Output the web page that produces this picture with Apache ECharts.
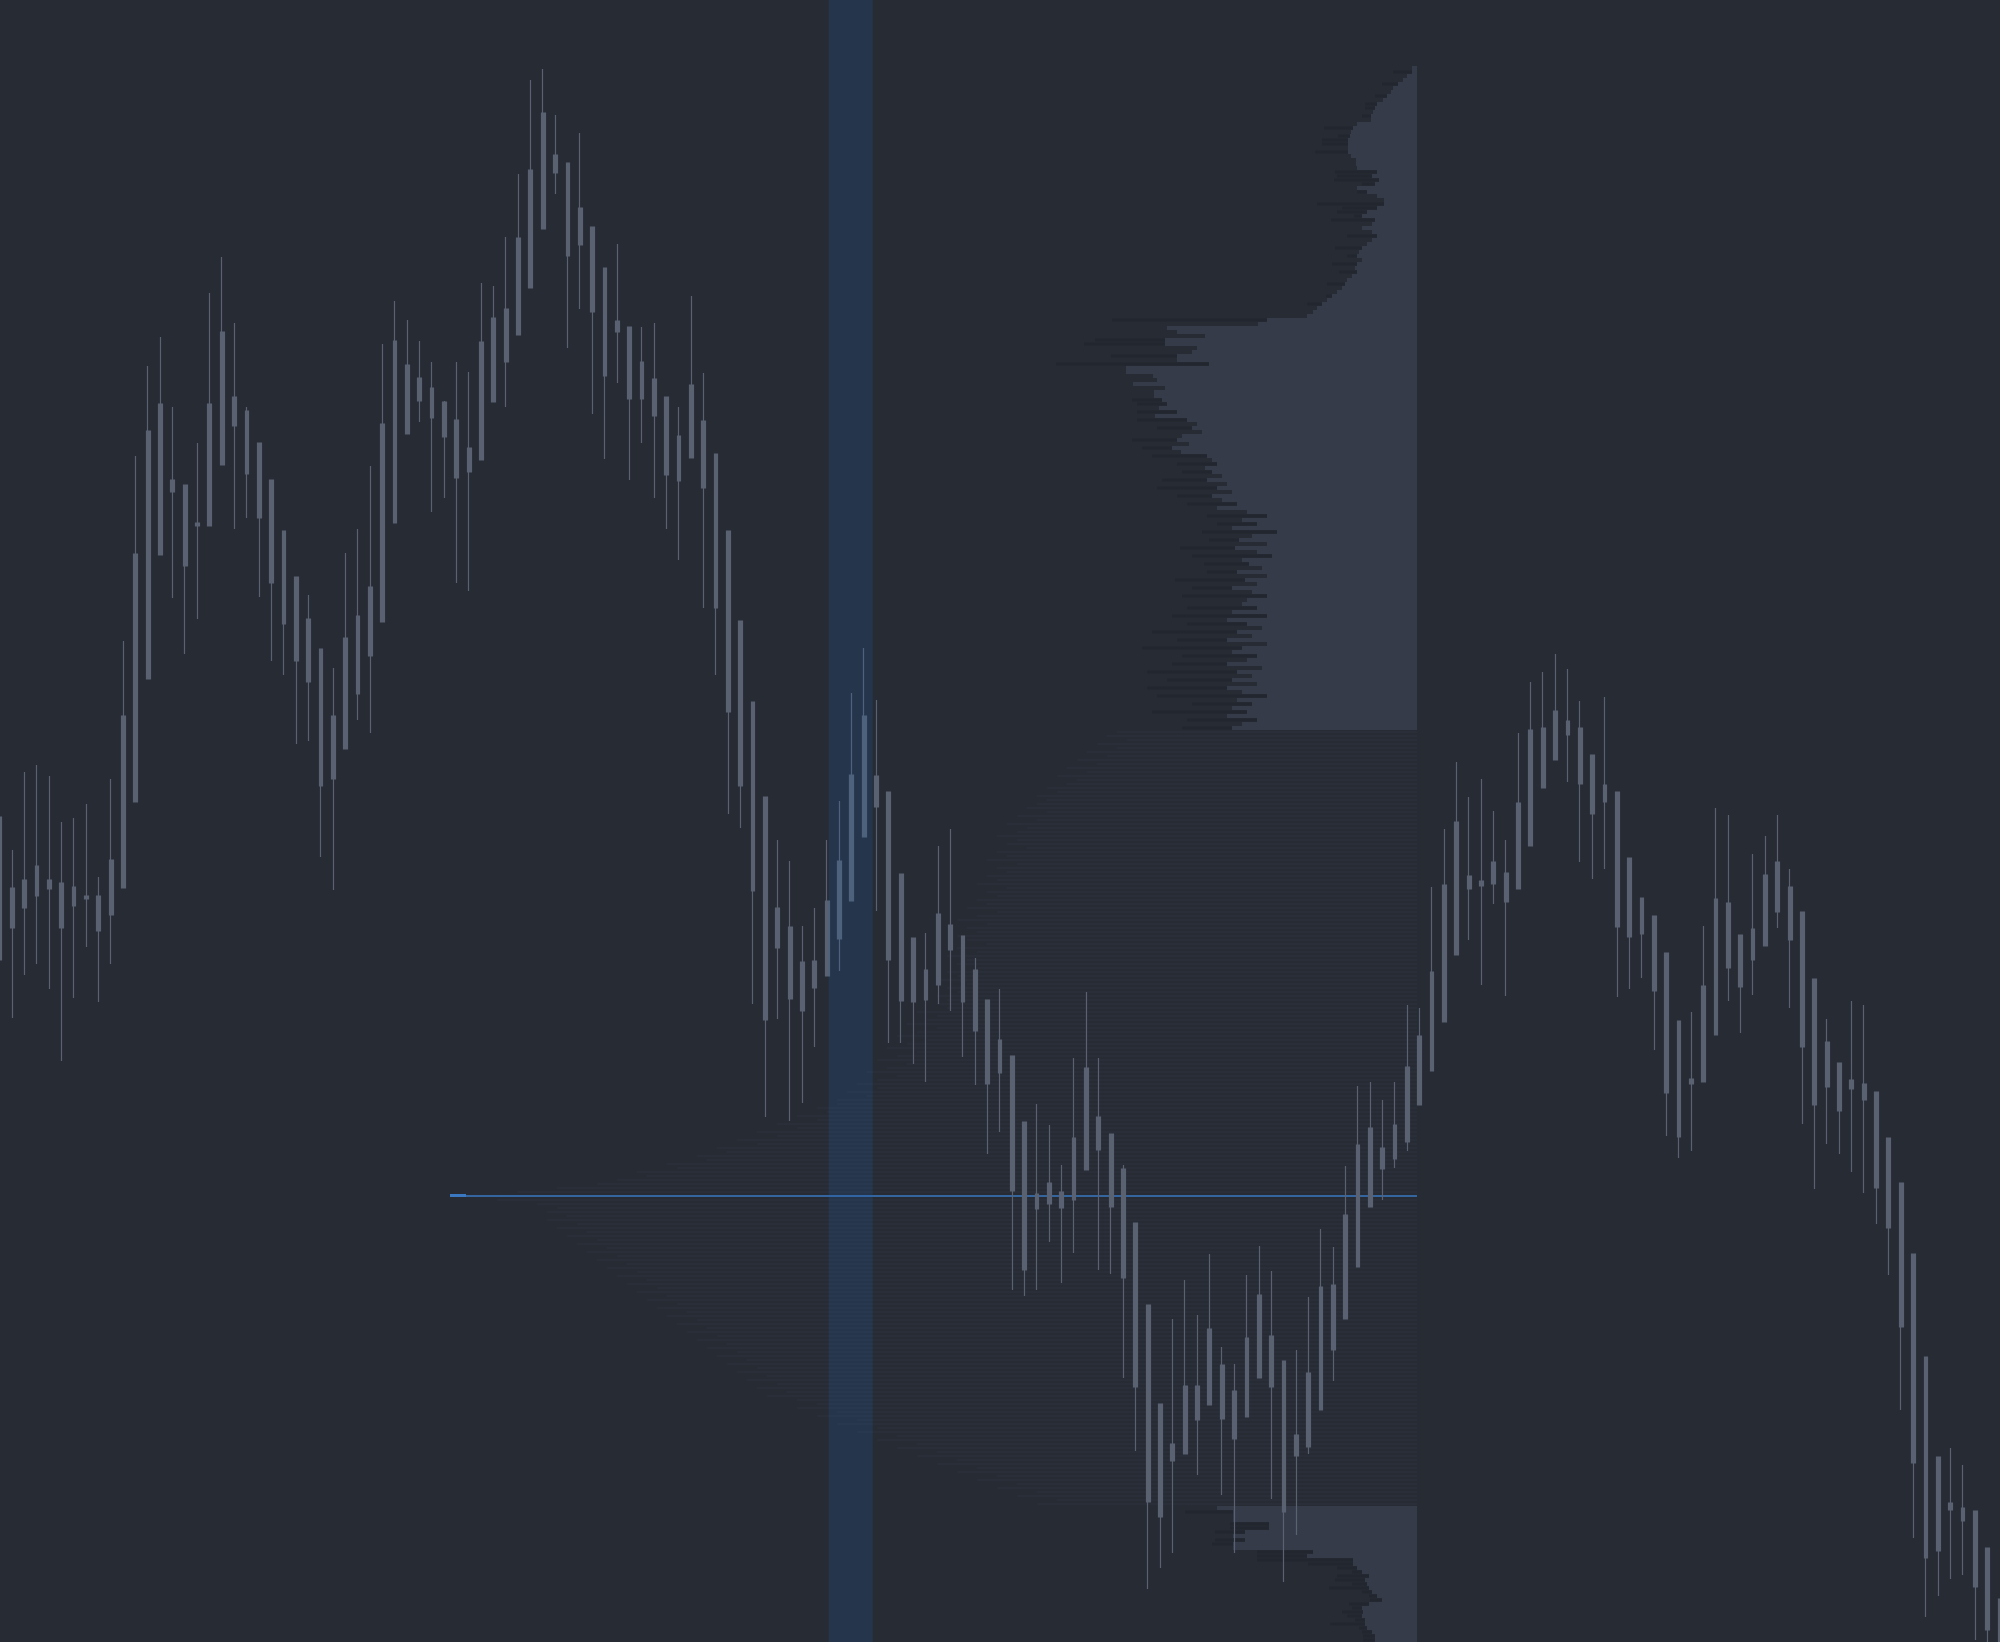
<!DOCTYPE html>
<html><head><meta charset="utf-8">
<style>html,body{margin:0;padding:0;background:#272b34;}#c{width:2000px;height:1642px;}</style>
<script src="https://cdn.jsdelivr.net/npm/echarts@6/dist/echarts.min.js"></script>
</head><body><div id="c"></div>
<script>
// candles: [open, close, low, high]
const candles = [
[1183,1040,1040,1183],[1112,1072,982,1150],[1092,1120,1025,1228],[1104,1134,1036,1235],[1120,1111,1011,1224],
[1117,1072,939,1178],[1094,1113,1002,1182],[1104,1101,1053,1196],[1104,1069,998,1123],[1085,1140,1036,1221],
[1112,1284,1112,1359],[1198,1446,1198,1544],[1321,1569,1321,1634],[1445,1596,1445,1663],[1520,1508,1402,1593],
[1515,1434,1346,1515],[1474,1477,1381,1557],[1474,1596,1474,1707],[1535,1668,1535,1743],[1603,1574,1471,1677],
[1589,1526,1482,1593],[1557,1482,1403,1557],[1520,1417,1339,1520],[1469,1376,1325,1469],[1423,1339,1256,1423],
[1381,1318,1259,1405],[1351,1214,1143,1351],[1221,1284,1110,1332],[1251,1362,1251,1447],[1306,1384,1280,1471],
[1344,1413,1267,1534],[1378,1576,1378,1656],[1477,1659,1477,1699],[1635,1566,1566,1680],[1599,1622,1578,1659],
[1612,1582,1488,1638],[1598,1563,1502,1599],[1580,1522,1417,1638],[1528,1552,1409,1628],[1540,1658,1540,1717],
[1598,1682,1598,1714],[1638,1691,1593,1763],[1665,1762,1665,1826],[1712,1830,1712,1920],[1771,1887,1771,1931],
[1845,1827,1806,1885],[1837,1744,1652,1837],[1755,1792,1691,1867],[1773,1688,1586,1773],[1732,1624,1541,1732],
[1668,1679,1617,1756],[1673,1601,1520,1673],[1601,1638,1557,1673],[1621,1584,1502,1677],[1603,1525,1471,1603],
[1519,1564,1440,1593],[1542,1615,1542,1704],[1579,1512,1392,1627],[1546,1392,1325,1546],[1469,1288,1186,1469],
[1379,1214,1172,1379],[1298,1109,996,1298],[1203,980,883,1203],[1052,1092,981,1160],[1073,1001,879,1139],
[989,1038,897,1074],[1012,1039,953,1092],[1024,1099,1024,1160],[1061,1139,1029,1199],[1099,1225,1099,1307],
[1163,1284,1163,1352],[1224,1193,1089,1300],[1208,1040,957,1208],[1126,999,957,1126],[1062,998,936,1062],
[1000,1030,918,1067],[1015,1086,996,1154],[1075,1050,989,1171],[1064,998,943,1064],[1030,969,915,1042],
[1000,916,846,1000],[927,960,868,1011],[944,809,710,944],[878,730,704,878],[791,806,710,896],
[796,817,758,875],[808,792,717,835],[800,862,747,942],[830,932,830,1008],[883,850,730,942],
[866,793,726,866],[831,722,622,835],[777,613,549,777],[695,498,411,695],[483,596,432,596],
[556,539,447,681],[546,614,546,720],[614,580,525,685],[595,671,595,746],[635,581,505,653],
[609,561,447,636],[583,662,583,725],[622,705,622,754],[664,613,501,729],[639,488,418,639],
[544,565,465,650],[553,627,546,703],[590,713,590,771],[650,715,619,753],[681,785,681,834],
[733,855,733,914],[793,872,793,918],[852,831,800,900],[841,875,832,918],[858,933,849,995],
[895,964,895,992],[929,1028,929,1113],[978,1115,978,1171],[1045,1178,1045,1238],[1124,1111,1060,1203],
[1119,1114,1015,1221],[1116,1138,1096,1189],[1127,1098,1004,1160],[1111,1197,1111,1267],[1154,1270,1154,1318],
[1212,1272,1212,1328],[1240,1289,1240,1346],[1265,1279,1218,1331],[1272,1216,1138,1299],[1245,1186,1121,1245],
[1198,1215,1131,1303],[1208,1073,1003,1208],[1142,1063,1011,1142],[1066,1102,1022,1102],[1084,1009,950,1084],
[1047,907,864,1047],[979,863,842,979],[916,921,849,988],[918,1014,918,1074],[965,1101,965,1192],
[1032,1097,999,1185],[1065,1013,967,1065],[1040,1071,1005,1146],[1054,1125,1054,1164],[1088,1138,1072,1185],
[1113,1060,992,1131],[1088,953,876,1088],[1021,895,811,1021],[913,958,856,981],[937,889,846,937],
[911,920,828,999],[916,900,807,995],[908,812,776,908],[862,772,725,862],[817,673,590,817],
[746,537,462,746],[643,442,383,643],[449,543,404,543],[497,490,421,552],[492,479,425,535],
[489,413,360,489],[452,370,340,452],[401,330,300,401]
];
const categories = candles.map((_, i) => String(i + 1));

// highlighted band, in candle-index units
const bandRange = [67.12, 70.69];

// volume profile rows (price of first row top, row size in price units)
const profileTop = 1934;
const rowSize = 4;
const topLight = [
5,5,10,14,19,24,26,30,34,40, 42,44,46,46,60,64,66,67,69,69, 69,69,66,61,61,60,40,45,38,42,
60,50,40,33,33,40,50,55,42,45, 55,45,40,45,50,55,58,60,55,60, 62,60,65,70,72,75,80,85,90,95,
100,104,110,
150,159,250,240,212,252,252,220,225,240,240,208,291,291,264,260,284,252,263,263,255,
250,258,240,262,230,220,225,215,235,240,228,245,236,210,205,200,212,205,195,210,190,200,185,205,195,180,200,
170,150,175,160,185,140,165,178,150,182,160,145,175,168,155,180,150,172,160,185,165,150,170,
175,160,185,150,190,170,155,180,165,190,150,175,185,160,170,190,155,180,165,185,160,190,175,150,180,165,185,170,190,160,175,185
];
const topDark = [
0,19,0,0,16,0,0,12,0,12, 10,0,9,0,0,29,0,12,26,26, 0,33,0,0,0,0,42,35,45,13,
0,10,0,0,67,35,30,8,44,0, 0,0,30,0,0,27,0,10,0,25, 0,18,0,0,18,0,0,6,0,15,
0,0,0,
155,0,0,0,0,70,81,0,0,66,0,153,0,0,0,0,0,0,0,0,30,
30,0,40,0,50,0,35,0,0,45,0,30,0,55,0,40,0,30,0,45,0,60,0,35,0,50,0,
0,60,0,40,0,75,0,30,0,55,0,80,0,45,0,30,0,70,0,40,0,85,0,
0,70,0,95,0,60,0,85,0,50,0,100,0,75,0,55,0,90,0,65,0,80,0,110,0,60,0,95,0,70,0,50
];
const midVol = [
300,310,290,320,300,330,310,340,320,350,330,360,340,350,370,360,380,370,
380,390,370,400,380,410,390,400,420,400,410,390,420,410,430,400,420,410,430,420,440,410,430,420,440,
430,450,420,440,460,430,450,440,460,450,430,460,440,470,450,460,440,470,460,480,450,470,460,480,470,
480,470,500,480,490,510,480,500,520,490,510,530,500,520,540,510,530,550,520,540,560,540,570,550,580,
580,600,590,620,600,640,620,660,640,680,660,700,690,720,710,750,740,780,770,800,
820,860,900,967,920,880,860,870,
850,870,840,860,830,850,820,840,810,830,800,820,790,810,780,800,770,790,760,780,750,770,
740,760,730,750,720,740,710,730,700,720,690,710,680,700,670,690,660,680,650,670,640,660,630,650,620,
600,620,580,600,560,580,540,560,520,540,500,520,480,500,460,480,440,460,420,440,400,420,380,400,360,380
];
const bottomLight = [200,184,184,184,148,148,172,184,172,184,184,104,110,64,64,60,55,48,52,50,48,45,40,35,48,55,54,55,52,52,50,45,42,42];
const bottomDark  = [0,48,0,0,39,39,30,0,30,21,0,56,50,96,45,20,10,32,30,15,40,10,8,12,20,10,21,15,10,35,8,10,12,12];

function rows(start, light, dark, kind) {
  return light.map((v, j) => {
    const k = start + j;
    return [profileTop - k * rowSize, profileTop - (k + 1) * rowSize, v, dark ? dark[j] : 0, kind];
  });
}
const nTop = topLight.length, nMid = midVol.length;
const profileData = [].concat(
  rows(0, topLight, topDark, 0),
  rows(nTop, midVol, null, 1),
  rows(nTop + nMid, bottomLight, bottomDark, 0)
);
let pocIdx = 0;
midVol.forEach((v, j) => { if (v > midVol[pocIdx]) pocIdx = j; });
const pocPrice = profileTop - (nTop + pocIdx + 0.5) * rowSize;
const pocVol = midVol[pocIdx];

const chart = echarts.init(document.getElementById('c'), null, {renderer: 'canvas'});
chart.setOption({
  backgroundColor: '#272b34',
  animation: false,
  grid: [
    {left: 0, right: 0, top: 0, bottom: 0},
    {left: 0, top: 0, bottom: 0, width: 1417}
  ],
  xAxis: [
    {type: 'category', data: categories, boundaryGap: false, show: false, gridIndex: 0},
    {type: 'value', min: 0, max: 162, show: false, gridIndex: 0},
    {type: 'value', min: 0, max: 1417, inverse: true, show: false, gridIndex: 1}
  ],
  yAxis: [
    {type: 'value', min: 358, max: 2000, show: false, splitLine: {show: false}, gridIndex: 0},
    {type: 'value', min: 358, max: 2000, show: false, splitLine: {show: false}, gridIndex: 1}
  ],
  series: [
    {
      type: 'custom', xAxisIndex: 2, yAxisIndex: 1, z: 1, silent: true,
      data: profileData, encode: {x: 2, y: 0},
      renderItem: function (params, api) {
        const top = api.value(0), bot = api.value(1), light = api.value(2), dark = api.value(3), kind = api.value(4);
        const p0 = api.coord([0, top]);
        const p1 = api.coord([light, bot]);
        const p2 = api.coord([light + dark, bot]);
        const h = p1[1] - p0[1];
        const children = [];
        if (kind === 0) {
          children.push({type: 'rect', shape: {x: p1[0], y: p0[1], width: p0[0] - p1[0], height: h}, style: {fill: '#363b4a'}});
          if (dark > 0) children.push({type: 'rect', shape: {x: p2[0], y: p0[1] + 0.5, width: p1[0] - p2[0], height: h - 1}, style: {fill: '#22262e'}});
        } else {
          children.push({type: 'rect', shape: {x: p1[0], y: p0[1] + 1, width: p0[0] - p1[0], height: h - 2}, style: {fill: '#2a2e38'}});
        }
        return {type: 'group', children: children};
      }
    },
    {
      type: 'custom', xAxisIndex: 2, yAxisIndex: 1, z: 2, silent: true,
      data: [[pocVol, pocPrice]], encode: {x: 0, y: 1},
      renderItem: function (params, api) {
        const a = api.coord([api.value(0), api.value(1)]);
        const b = api.coord([0, api.value(1)]);
        return {type: 'group', children: [
          {type: 'line', shape: {x1: a[0], y1: a[1], x2: b[0], y2: b[1]}, style: {stroke: '#3a78c2', lineWidth: 1.6}},
          {type: 'rect', shape: {x: a[0], y: a[1] - 2, width: 16, height: 3}, style: {fill: '#3a78c2'}}
        ]};
      }
    },
    {
      type: 'candlestick', xAxisIndex: 0, yAxisIndex: 0, z: 3,
      data: candles, barWidth: 4.3,
      itemStyle: {color: '#5a6272', color0: '#5a6272', borderColor: '#5a6272', borderColor0: '#5a6272', borderWidth: 1.2}
    },
    {
      type: 'custom', xAxisIndex: 1, yAxisIndex: 0, z: 4, silent: true,
      data: [bandRange], encode: {x: [0, 1]},
      renderItem: function (params, api) {
        const a = api.coord([api.value(0), 2000]);
        const b = api.coord([api.value(1), 358]);
        return {type: 'rect', shape: {x: a[0], y: a[1], width: b[0] - a[0], height: b[1] - a[1]}, style: {fill: 'rgba(30,100,175,0.2)'}};
      }
    }
  ]
});
</script>
</body></html>
